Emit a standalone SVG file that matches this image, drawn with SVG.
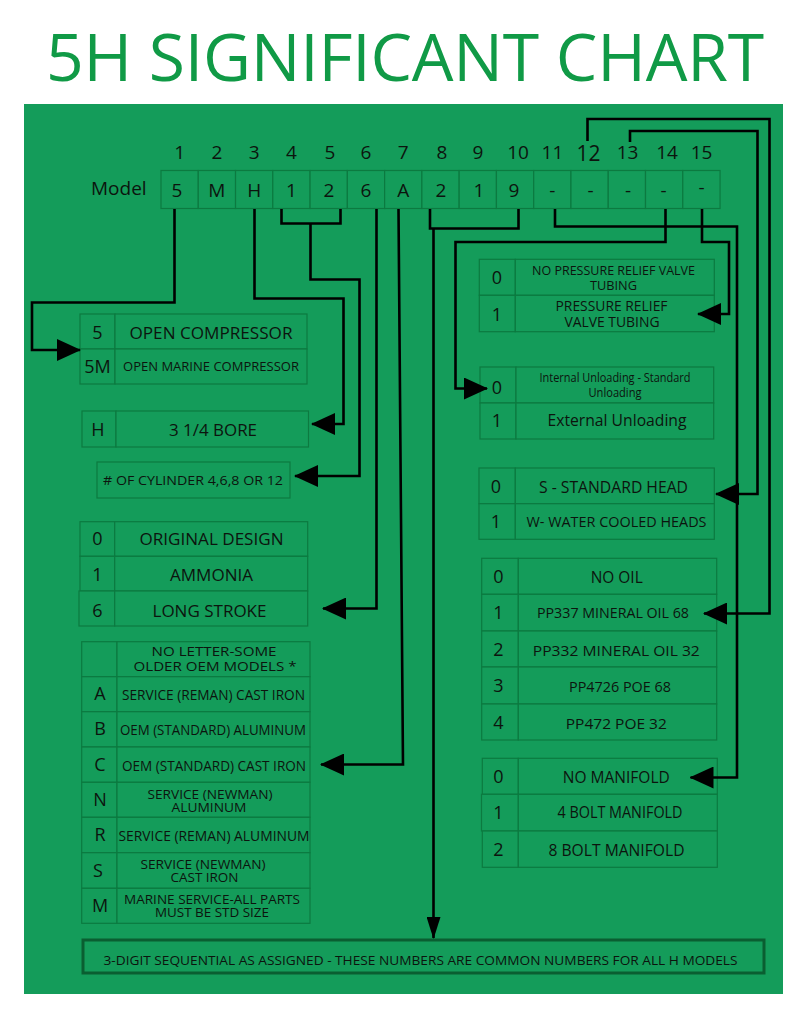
<svg xmlns="http://www.w3.org/2000/svg" width="801" height="1024" viewBox="0 0 801 1024">
<style>
text{font-family:"Open Sans","Noto Sans","Liberation Sans",sans-serif;fill:#0c140e}
.c{fill:#149c5a;stroke:#0c7a40;stroke-width:1.2}
.d{font-size:18px;text-anchor:middle}
.t{text-anchor:middle}
.w{fill:none;stroke:#000;stroke-width:2.6;stroke-linejoin:miter}
.a{marker-end:url(#ah)}
</style>
<defs>
<marker id="ah" viewBox="0 0 24 22" refX="23" refY="11" markerWidth="24" markerHeight="22" markerUnits="userSpaceOnUse" orient="auto"><path d="M0,0L24,11L0,22Z" fill="#000"/></marker>
<marker id="ad" viewBox="0 0 22 14" refX="21" refY="7" markerWidth="22" markerHeight="14" markerUnits="userSpaceOnUse" orient="auto"><path d="M0,0L22,7L0,14Z" fill="#000"/></marker>
</defs>
<rect width="801" height="1024" fill="#fff"/>
<text x="405" y="81" font-size="66" text-anchor="middle" textLength="718" lengthAdjust="spacing" style="fill:#109a46">5H SIGNIFICANT CHART</text>
<rect x="24" y="104" width="759" height="890" fill="#149c5a"/>

<g id="model">
<text x="91" y="195" font-size="19">Model</text>
<g font-size="19" text-anchor="middle">
<text x="179.6" y="159">1</text><text x="216.9" y="159">2</text><text x="254.2" y="159">3</text><text x="291.4" y="159">4</text><text x="330" y="159">5</text><text x="366" y="159">6</text><text x="403.2" y="159">7</text><text x="442" y="159">8</text><text x="478" y="159">9</text><text x="518" y="159">10</text><text x="552.4" y="159">11</text><text x="588.5" y="161" font-size="21">12</text><text x="627.5" y="159">13</text><text x="667" y="159">14</text><text x="701.5" y="159">15</text>
</g>
<g>
<rect class="c" x="161" y="170.5" width="37.27" height="38"/><rect class="c" x="198.27" y="170.5" width="37.27" height="38"/><rect class="c" x="235.54" y="170.5" width="37.27" height="38"/><rect class="c" x="272.81" y="170.5" width="37.27" height="38"/><rect class="c" x="310.08" y="170.5" width="37.27" height="38"/><rect class="c" x="347.35" y="170.5" width="37.27" height="38"/><rect class="c" x="384.62" y="170.5" width="37.27" height="38"/><rect class="c" x="421.89" y="170.5" width="37.27" height="38"/><rect class="c" x="459.16" y="170.5" width="37.27" height="38"/><rect class="c" x="496.43" y="170.5" width="37.27" height="38"/><rect class="c" x="533.7" y="170.5" width="37.27" height="38"/><rect class="c" x="570.97" y="170.5" width="37.27" height="38"/><rect class="c" x="608.24" y="170.5" width="37.27" height="38"/><rect class="c" x="645.51" y="170.5" width="37.27" height="38"/><rect class="c" x="682.78" y="170.5" width="37.27" height="38"/>
</g>
<g font-size="19" text-anchor="middle">
<text x="177" y="197">5</text><text x="216.9" y="197">M</text><text x="254.2" y="197">H</text><text x="291.4" y="197">1</text><text x="329" y="197">2</text><text x="366" y="197">6</text><text x="403.2" y="197">A</text><text x="441" y="197">2</text><text x="479" y="197">1</text><text x="514" y="197">9</text><text x="552.4" y="197">-</text><text x="590.5" y="197">-</text><text x="628" y="197">-</text><text x="663.5" y="197">-</text><text x="701.5" y="194">-</text>
</g>
</g>

<g id="t-compressor">
<rect class="c" x="80" y="314" width="35" height="35"/><rect class="c" x="115" y="314" width="192" height="35"/>
<rect class="c" x="80" y="349" width="35" height="35"/><rect class="c" x="115" y="349" width="192" height="35"/>
<text class="d" x="97.5" y="339">5</text><text class="t" x="211" y="339" font-size="17" textLength="163" lengthAdjust="spacingAndGlyphs">OPEN COMPRESSOR</text>
<text class="d" x="97.5" y="373">5M</text><text class="t" x="211" y="371" font-size="13" textLength="176" lengthAdjust="spacingAndGlyphs">OPEN MARINE COMPRESSOR</text>
</g>

<g id="t-bore">
<rect class="c" x="82" y="411" width="34" height="36"/><rect class="c" x="116" y="411" width="192.5" height="36"/>
<text class="d" x="98" y="436">H</text><text class="t" x="213" y="436" font-size="17" textLength="88" lengthAdjust="spacingAndGlyphs">3 1/4 BORE</text>
</g>

<g id="t-cylinder">
<rect class="c" x="97" y="462" width="193" height="36"/>
<text class="t" x="193" y="485" font-size="13.5" textLength="180" lengthAdjust="spacingAndGlyphs"># OF CYLINDER 4,6,8 OR 12</text>
</g>

<g id="t-design">
<rect class="c" x="80" y="521.7" width="34.7" height="34.6"/><rect class="c" x="114.7" y="521.7" width="193" height="34.6"/>
<rect class="c" x="80" y="556.3" width="34.7" height="34.7"/><rect class="c" x="114.7" y="556.3" width="193" height="34.7"/>
<rect class="c" x="79" y="591" width="35.7" height="35"/><rect class="c" x="114.7" y="591" width="193" height="35"/>
<text class="d" x="97.5" y="545">0</text><text class="t" x="211.5" y="545" font-size="17" textLength="144" lengthAdjust="spacingAndGlyphs">ORIGINAL DESIGN</text>
<text class="d" x="97.5" y="581">1</text><text class="t" x="211.5" y="581" font-size="17" textLength="83" lengthAdjust="spacingAndGlyphs">AMMONIA</text>
<text class="d" x="97.5" y="617">6</text><text class="t" x="209.5" y="617" font-size="17" textLength="114" lengthAdjust="spacingAndGlyphs">LONG STROKE</text>
</g>

<g id="t-material">
<rect class="c" x="81.7" y="641.7" width="35.3" height="35"/><rect class="c" x="117" y="641.7" width="193" height="35"/>
<rect class="c" x="81.7" y="676.7" width="35.3" height="35"/><rect class="c" x="117" y="676.7" width="193" height="35"/>
<rect class="c" x="81.7" y="711.7" width="35.3" height="35.3"/><rect class="c" x="117" y="711.7" width="193" height="35.3"/>
<rect class="c" x="81.7" y="747" width="35.3" height="35.3"/><rect class="c" x="117" y="747" width="193" height="35.3"/>
<rect class="c" x="81.7" y="782.3" width="35.3" height="35"/><rect class="c" x="117" y="782.3" width="193" height="35"/>
<rect class="c" x="81.7" y="817.3" width="35.3" height="35.4"/><rect class="c" x="117" y="817.3" width="193" height="35.4"/>
<rect class="c" x="81.7" y="852.7" width="35.3" height="35.6"/><rect class="c" x="117" y="852.7" width="193" height="35.6"/>
<rect class="c" x="81.7" y="888.3" width="35.3" height="35"/><rect class="c" x="117" y="888.3" width="193" height="35"/>
<text class="t" x="214" y="656" font-size="13.5" textLength="125" lengthAdjust="spacingAndGlyphs">NO LETTER-SOME</text>
<text class="t" x="215" y="670.5" font-size="13.5" textLength="163" lengthAdjust="spacingAndGlyphs">OLDER OEM MODELS *</text>
<text class="d" x="100" y="700">A</text><text class="t" x="213.5" y="700" font-size="14" textLength="183" lengthAdjust="spacingAndGlyphs">SERVICE (REMAN) CAST IRON</text>
<text class="d" x="100" y="735">B</text><text class="t" x="213" y="735" font-size="14" textLength="186" lengthAdjust="spacingAndGlyphs">OEM (STANDARD) ALUMINUM</text>
<text class="d" x="100" y="770.5">C</text><text class="t" x="214" y="770.5" font-size="14" textLength="184" lengthAdjust="spacingAndGlyphs">OEM (STANDARD) CAST IRON</text>
<text class="d" x="100" y="806">N</text><text class="t" x="210" y="798.5" font-size="13" textLength="125" lengthAdjust="spacingAndGlyphs">SERVICE (NEWMAN)</text><text class="t" x="209" y="812" font-size="13" textLength="75" lengthAdjust="spacingAndGlyphs">ALUMINUM</text>
<text class="d" x="100" y="841">R</text><text class="t" x="214" y="841" font-size="14" textLength="191" lengthAdjust="spacingAndGlyphs">SERVICE (REMAN)  ALUMINUM</text>
<text class="d" x="98" y="876.5">S</text><text class="t" x="203" y="868.5" font-size="13" textLength="125" lengthAdjust="spacingAndGlyphs">SERVICE (NEWMAN)</text><text class="t" x="204.5" y="882" font-size="13" textLength="68" lengthAdjust="spacingAndGlyphs">CAST IRON</text>
<text class="d" x="100" y="911.5">M</text><text class="t" x="212" y="903.5" font-size="13" textLength="176" lengthAdjust="spacingAndGlyphs">MARINE SERVICE-ALL PARTS</text><text class="t" x="212" y="917" font-size="13" textLength="114" lengthAdjust="spacingAndGlyphs">MUST BE STD SIZE</text>
</g>

<g id="t-prv">
<rect class="c" x="479.3" y="259.3" width="36" height="36"/><rect class="c" x="515.3" y="259.3" width="199" height="36"/>
<rect class="c" x="479.3" y="295.3" width="36" height="36.4"/><rect class="c" x="515.3" y="295.3" width="199" height="36.4"/>
<text class="d" x="497" y="284.3">0</text><text class="t" x="613.5" y="274.5" font-size="12.5" textLength="163" lengthAdjust="spacingAndGlyphs">NO PRESSURE RELIEF VALVE</text><text class="t" x="613.5" y="289.5" font-size="12.5" textLength="47" lengthAdjust="spacingAndGlyphs">TUBING</text>
<text class="d" x="497" y="320.7">1</text><text class="t" x="611.5" y="311" font-size="14" textLength="112" lengthAdjust="spacingAndGlyphs">PRESSURE RELIEF</text><text class="t" x="612" y="327.3" font-size="14" textLength="95" lengthAdjust="spacingAndGlyphs">VALVE TUBING</text>
</g>

<g id="t-unloading">
<rect class="c" x="480" y="367" width="36" height="36"/><rect class="c" x="516" y="367" width="197.7" height="36"/>
<rect class="c" x="480" y="403" width="36" height="36"/><rect class="c" x="516" y="403" width="197.7" height="36"/>
<text class="d" x="497" y="394">0</text><text class="t" x="615" y="381.7" font-size="12.5" textLength="151" lengthAdjust="spacingAndGlyphs">Internal Unloading - Standard</text><text class="t" x="615" y="397.3" font-size="12.5" textLength="53" lengthAdjust="spacingAndGlyphs">Unloading</text>
<text class="d" x="497" y="427">1</text><text class="t" x="617" y="425.5" font-size="16" textLength="139" lengthAdjust="spacingAndGlyphs">External Unloading</text>
</g>

<g id="t-head">
<rect class="c" x="479" y="468" width="36.3" height="35.7"/><rect class="c" x="515.3" y="468" width="199" height="35.7"/>
<rect class="c" x="479" y="503.7" width="36.3" height="35.6"/><rect class="c" x="515.3" y="503.7" width="199" height="35.6"/>
<text class="d" x="496" y="493">0</text><text class="t" x="613.5" y="492.7" font-size="16" textLength="149" lengthAdjust="spacingAndGlyphs">S - STANDARD HEAD</text>
<text class="d" x="496" y="528">1</text><text class="t" x="616.5" y="527.3" font-size="15" textLength="180" lengthAdjust="spacingAndGlyphs">W- WATER COOLED HEADS</text>
</g>

<g id="t-oil">
<rect class="c" x="481.7" y="558.3" width="36.6" height="36"/><rect class="c" x="518.3" y="558.3" width="198.4" height="36"/>
<rect class="c" x="481.7" y="594.3" width="36.6" height="36.7"/><rect class="c" x="518.3" y="594.3" width="198.4" height="36.7"/>
<rect class="c" x="481.7" y="631" width="36.6" height="36"/><rect class="c" x="518.3" y="631" width="198.4" height="36"/>
<rect class="c" x="481.7" y="667" width="36.6" height="37"/><rect class="c" x="518.3" y="667" width="198.4" height="37"/>
<rect class="c" x="481.7" y="704" width="36.6" height="36"/><rect class="c" x="518.3" y="704" width="198.4" height="36"/>
<text class="d" x="498.3" y="583">0</text><text class="t" x="616.7" y="583.3" font-size="16" textLength="52" lengthAdjust="spacingAndGlyphs">NO OIL</text>
<text class="d" x="498.3" y="619">1</text><text class="t" x="613" y="617.7" font-size="15" textLength="152" lengthAdjust="spacingAndGlyphs">PP337 MINERAL OIL 68</text>
<text class="d" x="498.3" y="655.7">2</text><text class="t" x="616.3" y="655.7" font-size="15" textLength="167" lengthAdjust="spacingAndGlyphs">PP332 MINERAL OIL 32</text>
<text class="d" x="498.3" y="692">3</text><text class="t" x="620" y="691.7" font-size="15" textLength="102" lengthAdjust="spacingAndGlyphs">PP4726 POE 68</text>
<text class="d" x="498.3" y="729">4</text><text class="t" x="616.3" y="729" font-size="15" textLength="101" lengthAdjust="spacingAndGlyphs">PP472 POE 32</text>
</g>

<g id="t-manifold">
<rect class="c" x="482.3" y="758.3" width="36" height="36"/><rect class="c" x="518.3" y="758.3" width="199" height="36"/>
<rect class="c" x="481.5" y="794.3" width="36.8" height="36.7"/><rect class="c" x="518.3" y="794.3" width="199" height="36.7"/>
<rect class="c" x="482.3" y="831" width="36" height="36.3"/><rect class="c" x="518.3" y="831" width="199" height="36.3"/>
<text class="d" x="498.3" y="783">0</text><text class="t" x="616.3" y="782.7" font-size="15.5" textLength="107" lengthAdjust="spacingAndGlyphs">NO MANIFOLD</text>
<text class="d" x="498.3" y="818.5">1</text><text class="t" x="620" y="818.3" font-size="15.5" textLength="125" lengthAdjust="spacingAndGlyphs">4 BOLT MANIFOLD</text>
<text class="d" x="498.3" y="856">2</text><text class="t" x="616.5" y="856" font-size="15.5" textLength="136" lengthAdjust="spacingAndGlyphs">8 BOLT MANIFOLD</text>
</g>

<g id="t-sequential">
<rect x="83" y="940" width="681" height="33" fill="#149c5a" stroke="#0a5e31" stroke-width="3"/>
<text class="t" x="420.5" y="965" font-size="13.5" textLength="634" lengthAdjust="spacingAndGlyphs">3-DIGIT SEQUENTIAL AS ASSIGNED - THESE NUMBERS ARE COMMON NUMBERS FOR ALL H MODELS</text>
</g>

<g id="connectors">
<path class="w a" d="M174.5,209V302.5H32V350H80"/>
<path class="w a" d="M254.5,209V298.5H343.5V424H312"/>
<path class="w" d="M281.5,209V223.5H340.5V209"/>
<path class="w a" d="M310.5,223.5V279.5H359.5V476H295"/>
<path class="w a" d="M376.5,209V608.5H323"/>
<path class="w a" d="M398.5,209L403,764.5H321"/>
<path class="w" d="M430,209V228.5H518.5V209"/>
<path class="w" d="M433.5,228.5V938" marker-end="url(#ad)"/>
<path class="w a" d="M555,209V226.5H737V777.5H690.5"/>
<path class="w a" d="M587.5,141V119H769.5V613.5H704"/>
<path class="w a" d="M630,142V131H757.5V494H716"/>
<path class="w a" d="M665.5,209V242H455.5V388.5H487"/>
<path class="w a" d="M702,209V242H729V314H698"/>
</g>
</svg>
